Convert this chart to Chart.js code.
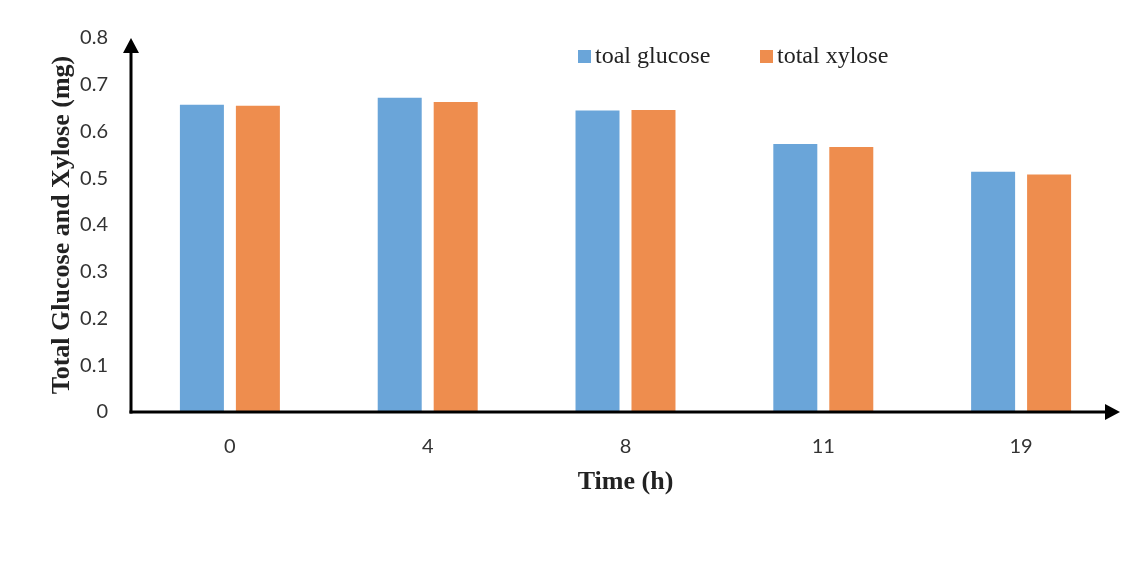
<!DOCTYPE html>
<html>
<head>
<meta charset="utf-8">
<script src="https://cdn.jsdelivr.net/npm/chart.js@4.4.1/dist/chart.umd.min.js"></script>
<style>
  html, body { margin: 0; padding: 0; background: #ffffff; }
  #wrap { width: 1140px; height: 583px; }
</style>
</head>
<body>
<div id="wrap"><canvas id="grafico" width="1140" height="583"></canvas></div>
<script>
// Datos
const tiempos = ["0", "4", "8", "11", "19"];
const glucosa = [0.657, 0.672, 0.645, 0.573, 0.514];
const xilosa = [0.655, 0.663, 0.646, 0.567, 0.508];
const nombresSeries = ["toal glucose", "total xylose"];
const coloresSeries = ["#6aa5d9", "#ee8d4e"];

// Ejes con flecha (negros, gruesos)
const ejesConFlecha = {
    id: "ejesConFlecha",
    afterDatasetsDraw(chart) {
        const ctx = chart.ctx;
        const area = chart.chartArea;
        const x0 = area.left;
        const y0 = chart.scales.y.getPixelForValue(0);
        ctx.save();
        ctx.strokeStyle = "#000";
        ctx.fillStyle = "#000";
        ctx.lineWidth = 3;
        // eje y
        ctx.beginPath();
        ctx.moveTo(x0, y0 + 1.5);
        ctx.lineTo(x0, area.top + 12);
        ctx.stroke();
        ctx.beginPath();
        ctx.moveTo(x0, area.top);
        ctx.lineTo(x0 - 8, area.top + 15);
        ctx.lineTo(x0 + 8, area.top + 15);
        ctx.closePath();
        ctx.fill();
        // eje x
        ctx.beginPath();
        ctx.moveTo(x0 - 1.5, y0);
        ctx.lineTo(area.right - 12, y0);
        ctx.stroke();
        ctx.beginPath();
        ctx.moveTo(area.right, y0);
        ctx.lineTo(area.right - 15, y0 - 8);
        ctx.lineTo(area.right - 15, y0 + 8);
        ctx.closePath();
        ctx.fill();
        ctx.restore();
    }
};

// Leyenda dentro del area del grafico
const leyendaInterna = {
    id: "leyendaInterna",
    afterDraw(chart) {
        const ctx = chart.ctx;
        const posX = [578, 760];
        ctx.save();
        ctx.font = "24px 'Liberation Serif', 'Times New Roman', serif";
        ctx.textBaseline = "middle";
        chart.data.datasets.forEach((ds, i) => {
            ctx.fillStyle = ds.backgroundColor;
            ctx.fillRect(posX[i], 50, 13, 13);
            ctx.fillStyle = "#222";
            ctx.fillText(ds.label, posX[i] + 17, 57);
        });
        ctx.restore();
    }
};

new Chart(document.getElementById("grafico"), {
    type: "bar",
    data: {
        labels: tiempos,
        datasets: [
            { label: nombresSeries[0], data: glucosa, backgroundColor: coloresSeries[0] },
            { label: nombresSeries[1], data: xilosa, backgroundColor: coloresSeries[1] }
        ]
    },
    options: {
        responsive: false,
        animation: false,
        layout: { padding: { top: 38, right: 20, left: 0, bottom: 0 } },
        datasets: {
            bar: { categoryPercentage: 0.566, barPercentage: 0.786 }
        },
        plugins: {
            legend: { display: false },
            tooltip: { enabled: false }
        },
        scales: {
            x: {
                grid: { display: false },
                border: { display: false },
                ticks: {
                    color: "#333",
                    font: { family: "Lato", size: 20 },
                    padding: 15
                },
                title: {
                    display: true,
                    text: "Time (h)",
                    color: "#222",
                    font: { family: "'Liberation Serif'", size: 26, weight: "bold" },
                    padding: { top: 0, bottom: 85 }
                },
                afterFit: function(scale) { scale.height = 171; }
            },
            y: {
                min: 0,
                max: 0.8,
                grid: { display: false },
                border: { display: false },
                ticks: {
                    stepSize: 0.1,
                    color: "#333",
                    font: { family: "Lato", size: 20 },
                    padding: 15,
                    callback: function(v) { return Math.round(v * 10) / 10; }
                },
                title: {
                    display: true,
                    text: "Total Glucose and Xylose (mg)",
                    color: "#222",
                    font: { family: "'Liberation Serif'", size: 26, weight: "bold" },
                    padding: { top: 47, bottom: 0 }
                },
                afterFit: function(scale) { scale.width = 131; }
            }
        }
    },
    plugins: [ejesConFlecha, leyendaInterna]
});
</script>
</body>
</html>
